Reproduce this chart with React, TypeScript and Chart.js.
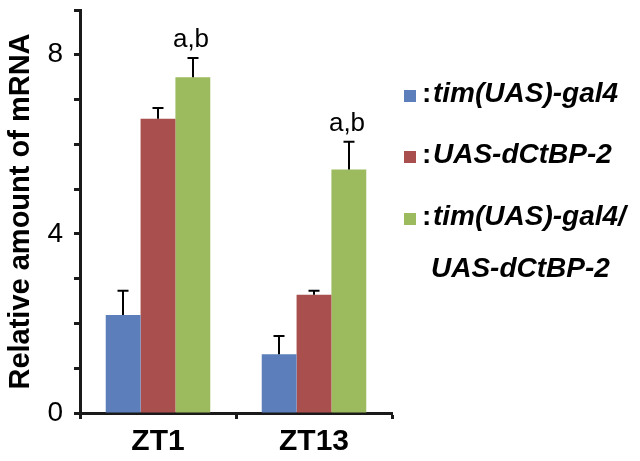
import React, { useEffect, useRef } from 'react';
import { Chart, registerables } from 'chart.js';
Chart.register(...registerables);

const categories = ['ZT1', 'ZT13'];
const seriesNames = ['tim(UAS)-gal4', 'UAS-dCtBP-2', 'tim(UAS)-gal4/UAS-dCtBP-2'];
const legendLines = [['tim(UAS)-gal4'], ['UAS-dCtBP-2'], ['tim(UAS)-gal4/', 'UAS-dCtBP-2']];
const gal4Values = [2.19, 1.31];
const gal4Errors = [0.54, 0.41];
const uasValues = [6.57, 2.64];
const uasErrors = [0.24, 0.09];
const crossValues = [7.5, 5.44];
const crossErrors = [0.43, 0.62];
const significance = ['a,b', 'a,b'];
const yLabelTicks = [0, 4, 8];
const yMax = 9;

const colors = ['#5c7fbc', '#a94f4d', '#9cbb5e'];
const FONT = "'Liberation Sans', Arial, sans-serif";
const AXIS = '#1a1a1a';

const errorsBySeries = [gal4Errors, uasErrors, crossErrors];

const errorBarPlugin = {
  id: 'errorBars',
  afterDatasetsDraw(chart: any) {
    const ctx = chart.ctx;
    const yScale = chart.scales.y;
    ctx.save();
    ctx.strokeStyle = '#000';
    ctx.lineWidth = 2;
    chart.data.datasets.forEach((ds: any, di: number) => {
      const meta = chart.getDatasetMeta(di);
      meta.data.forEach((bar: any, i: number) => {
        const v = ds.data[i];
        const e = errorsBySeries[di][i];
        const yTop = yScale.getPixelForValue(v + e);
        const x = Math.round(bar.x);
        ctx.beginPath();
        ctx.moveTo(x, bar.y);
        ctx.lineTo(x, yTop);
        ctx.moveTo(x - 5.5, yTop);
        ctx.lineTo(x + 5.5, yTop);
        ctx.stroke();
        if (di === 2) {
          ctx.fillStyle = '#000';
          ctx.font = `26px ${FONT}`;
          ctx.textAlign = 'center';
          ctx.textBaseline = 'alphabetic';
          ctx.fillText(significance[i], x - 2, yTop - 11);
        }
      });
    });
    ctx.restore();
  },
};

const legendPlugin = {
  id: 'customLegend',
  afterDraw(chart: any) {
    const ctx = chart.ctx;
    const baselines = [[102], [163], [225, 277]];
    ctx.save();
    ctx.textBaseline = 'alphabetic';
    ctx.textAlign = 'left';
    legendLines.forEach((lines, i) => {
      const b0 = baselines[i][0];
      ctx.fillStyle = colors[i];
      ctx.fillRect(404, b0 - 12, 12, 12);
      ctx.fillStyle = '#000';
      ctx.font = `bold 28px ${FONT}`;
      ctx.fillText(':', 422, b0);
      ctx.font = `italic bold 28px ${FONT}`;
      lines.forEach((ln, j) => {
        ctx.fillText(ln, j === 0 ? 433 : 431, baselines[i][j]);
      });
    });
    ctx.restore();
  },
};

export default function App() {
  const ref = useRef<HTMLCanvasElement>(null);
  useEffect(() => {
    if (!ref.current) return;
    const chart = new Chart(ref.current, {
      type: 'bar',
      data: {
        labels: categories,
        datasets: [
          { label: seriesNames[0], data: gal4Values, backgroundColor: colors[0] },
          { label: seriesNames[1], data: uasValues, backgroundColor: colors[1] },
          { label: seriesNames[2], data: crossValues, backgroundColor: colors[2] },
        ],
      },
      options: {
        animation: false,
        responsive: false,
        maintainAspectRatio: false,
        layout: { padding: { top: 10, right: 248, left: 4, bottom: 0 } },
        plugins: { legend: { display: false }, tooltip: { enabled: false } },
        datasets: { bar: { categoryPercentage: 0.67, barPercentage: 1.0 } },
        scales: {
          x: {
            grid: { display: true, drawOnChartArea: false, drawTicks: true, tickLength: 6, tickWidth: 3, tickColor: AXIS, offset: true },
            border: { display: true, color: AXIS, width: 3 },
            ticks: { color: '#000', font: { family: FONT, size: 30, weight: 'bold' }, padding: 5 },
            afterFit: (s: any) => { s.height = 48; s.paddingLeft = 0; s.paddingRight = 0; },
          },
          y: {
            min: 0,
            max: yMax,
            grid: { display: true, drawOnChartArea: false, drawTicks: true, tickLength: 6, tickWidth: 3, tickColor: AXIS },
            border: { display: true, color: AXIS, width: 3 },
            ticks: {
              stepSize: 1,
              color: '#000',
              padding: 11,
              font: { family: FONT, size: 28 },
              callback: (v: any) => (yLabelTicks.includes(Number(v)) ? String(v) : ''),
            },
            title: {
              display: true,
              text: 'Relative amount of mRNA',
              color: '#000',
              font: { family: FONT, size: 29, weight: 'bold' },
              padding: { top: 0, bottom: 0 },
            },
            afterFit: (s: any) => { s.width = 76; s.paddingTop = 0; s.paddingBottom = 0; },
          },
        },
      },
      plugins: [errorBarPlugin, legendPlugin],
    } as any);
    return () => chart.destroy();
  }, []);
  return (
    <div style={{ position: 'fixed', left: 0, top: 0, width: 640, height: 461, background: '#fff' }}>
      <canvas ref={ref} width={640} height={461} style={{ width: 640, height: 461, display: 'block' }} />
    </div>
  );
}
